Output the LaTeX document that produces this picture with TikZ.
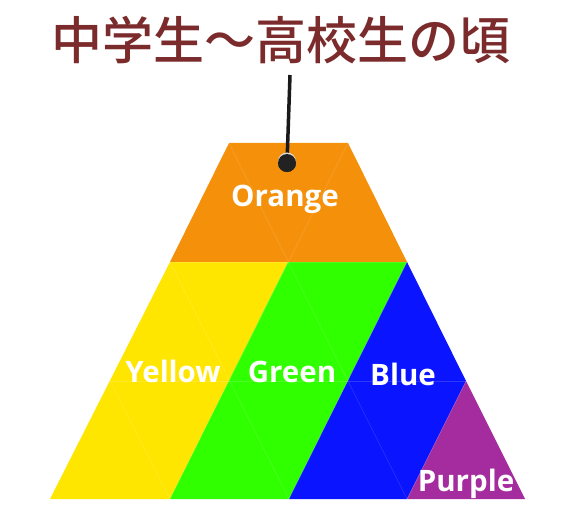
\documentclass[tikz,border=0pt]{standalone}
\usepackage{fontspec}
\setmainfont{Open Sans}
\newfontfamily\cjkfont{Noto Sans CJK JP}[UprightFont=* Medium]
\definecolor{titlered}{HTML}{7B2B2B}
\definecolor{corange}{HTML}{F5900A}
\definecolor{cyellow}{HTML}{FFE600}
\definecolor{cgreen}{HTML}{30FF00}
\definecolor{cblue}{HTML}{0A14FF}
\definecolor{cpurple}{HTML}{A52C9E}
\definecolor{dotgray}{HTML}{222222}
\begin{document}
\begin{tikzpicture}[x=1pt,y=-1pt,
  lab/.style={text=white,font=\bfseries\fontsize{29.5}{33}\selectfont,anchor=base,inner sep=0pt},
  lattice/.style={white,opacity=0.15,line width=0.6pt}]
\useasboundingbox (0,0) rectangle (572,513);
\fill[white] (0,0) rectangle (572,513);
% lattice points
\coordinate (A) at (229,143); \coordinate (B) at (348,143);
\coordinate (C) at (170,262); \coordinate (D) at (288,262); \coordinate (E) at (407,262);
\coordinate (F) at (110,381); \coordinate (G) at (229,381); \coordinate (H) at (348,381); \coordinate (I) at (466,381);
\coordinate (J) at (50,499); \coordinate (K) at (170,499); \coordinate (L) at (289,499); \coordinate (M) at (407,499); \coordinate (N) at (525,499);
% regions
\fill[corange] (A) -- (B) -- (E) -- (C) -- cycle;
\fill[cyellow] (C) -- (D) -- (K) -- (J) -- cycle;
\fill[cgreen] (D) -- (E) -- (L) -- (K) -- cycle;
\fill[cblue] (E) -- (I) -- (M) -- (L) -- cycle;
\fill[cpurple] (I) -- (N) -- (M) -- cycle;
% faint lattice
\begin{scope}
\clip (A) -- (B) -- (N) -- (J) -- cycle;
\draw[lattice] (C) -- (E) (F) -- (I);
\draw[lattice] (A) -- (M) (C) -- (L) (F) -- (K);
\draw[lattice] (B) -- (K) (E) -- (L) (I) -- (M);
\end{scope}
% title
\node[font=\cjkfont\fontsize{51}{56}\selectfont,text=titlered,inner sep=0pt] (title) at (281,40) {中学生～高校生の頃};
% pointer
\coordinate (ls) at (290,75);
\node[circle,fill=dotgray,minimum size=18pt,inner sep=0pt] (dot) at (287,163) {};
\draw[line width=3.5pt,black!90] (ls) -- (dot.center);
\fill[white!75!gray] ([yshift=1.5pt]dot.center) circle (9pt);
\node[circle,fill=dotgray,minimum size=18pt,inner sep=0pt] at (dot) {};
% labels
\node[lab] (lo) at (285,206) {Orange};
\node[lab] (ly) at (173,382) {Yellow};
\node[lab] (lg) at (292,382) {Green};
\node[lab] (lb) at (403,385) {Blue};
\node[lab] (lp) at (466,491) {Purple};
\end{tikzpicture}
\end{document}
